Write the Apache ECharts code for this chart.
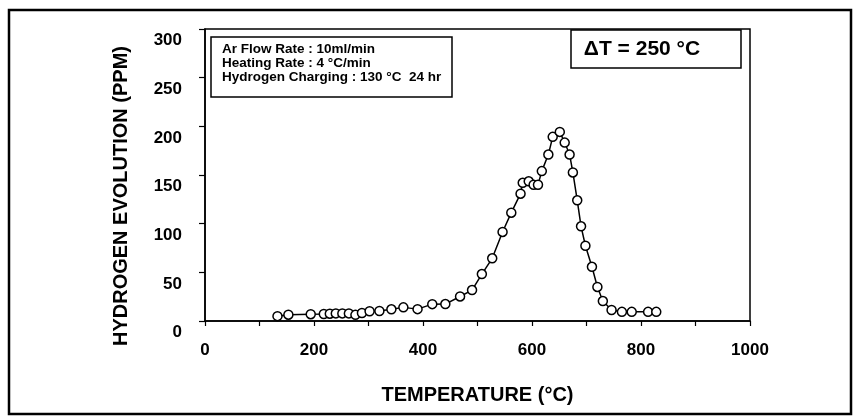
<!DOCTYPE html>
<html>
<head>
<meta charset="utf-8">
<script src="https://cdn.jsdelivr.net/npm/echarts@6/dist/echarts.min.js"></script>
<style>
html,body{margin:0;padding:0;background:#fff;}
#chart{width:860px;height:420px;}
</style>
</head>
<body>
<div id="chart"></div>
<script>
// Data
const temperatures = [133,153,194,218,229,240,252,264,276,288,302,320,342,364,390,417,441,468,490,508,527,546,562,579,583,594,603,611,618,630,638,651,660,669,675,683,690,698,710,720,730,746,765,783,813,828];
const hydrogenPpm  = [5,6.5,7,7.2,7.5,7.8,7.8,7.8,6.3,8.2,10,10.3,12,14,12.2,17.3,17.4,25.2,31.8,48.2,64.4,91.5,111.3,130.8,142,143.5,140,140,154,171,189.2,194.3,183.3,171,152.6,124,97.3,77.3,55.7,35,20.5,11.3,9.4,9.4,9.4,9.4];
const xRange = [0, 1000];
const yRange = [0, 300];
const infoLines = ['Ar Flow Rate : 10ml/min', 'Heating Rate : 4 °C/min', 'Hydrogen Charging : 130 °C  24 hr'];
const deltaText = 'ΔT = 250 °C';
const xTitle = 'TEMPERATURE (°C)';
const yTitle = 'HYDROGEN EVOLUTION (PPM)';

const FONT = '"Liberation Sans", Arial, sans-serif';
const seriesData = temperatures.map((t, i) => [t, hydrogenPpm[i]]);

const chart = echarts.init(document.getElementById('chart'), null, {renderer: 'canvas'});
chart.setOption({
  animation: false,
  backgroundColor: '#fff',
  grid: {left: 205, top: 29, right: 110, bottom: 99, show: true, borderColor: '#000', borderWidth: 1.5, containLabel: false},
  xAxis: {
    type: 'value', min: xRange[0], max: xRange[1], interval: 200,
    axisLine: {show: true, lineStyle: {color: '#000', width: 1.5}},
    axisTick: {show: true, inside: false, length: 5, lineStyle: {color: '#000', width: 1.2}},
    minorTick: {show: true, splitNumber: 2, length: 5, lineStyle: {color: '#000', width: 1.2}},
    splitLine: {show: false},
    axisLabel: {color: '#000', fontSize: 17, fontWeight: 'bold', fontFamily: FONT, margin: 21, formatter: v => String(v)},
    name: xTitle, nameLocation: 'middle', nameGap: 64,
    nameTextStyle: {color: '#000', fontSize: 20, fontWeight: 'bold', fontFamily: FONT}
  },
  yAxis: {
    type: 'value', min: yRange[0], max: yRange[1], interval: 50,
    axisLine: {show: true, lineStyle: {color: '#000', width: 1.5}},
    axisTick: {show: true, inside: false, length: 6, lineStyle: {color: '#000', width: 1.2}},
    splitLine: {show: false},
    axisLabel: {color: '#000', fontSize: 17, fontWeight: 'bold', fontFamily: FONT, margin: 23, verticalAlign: 'top', padding: [3, 0, 0, 0], formatter: v => String(v)},
    name: yTitle, nameLocation: 'middle', nameRotate: 90, nameGap: 74,
    nameTextStyle: {color: '#000', fontSize: 20, fontWeight: 'bold', fontFamily: FONT, padding: [0, 42, 0, 0]}
  },
  series: [{
    type: 'line',
    data: seriesData,
    symbol: 'circle',
    symbolSize: 9,
    itemStyle: {color: '#fff', borderColor: '#000', borderWidth: 1.5},
    lineStyle: {color: '#000', width: 1.5},
    z: 3
  }],
  graphic: [
    {type: 'rect', shape: {x: 9, y: 10, width: 842, height: 404}, style: {fill: 'none', stroke: '#000', lineWidth: 2.5}, silent: true},
    {type: 'rect', shape: {x: 211, y: 37, width: 241, height: 60}, style: {fill: '#fff', stroke: '#000', lineWidth: 1.5}, z: 10},
    {type: 'text', x: 222, y: 49, style: {text: infoLines[0], fill: '#000', fontSize: 13.5, fontWeight: 'bold', fontFamily: FONT, verticalAlign: 'middle'}, z: 11},
    {type: 'text', x: 222, y: 63, style: {text: infoLines[1], fill: '#000', fontSize: 13.5, fontWeight: 'bold', fontFamily: FONT, verticalAlign: 'middle'}, z: 11},
    {type: 'text', x: 222, y: 77, style: {text: infoLines[2], fill: '#000', fontSize: 13.5, fontWeight: 'bold', fontFamily: FONT, verticalAlign: 'middle'}, z: 11},
    {type: 'rect', shape: {x: 571, y: 30, width: 170, height: 38}, style: {fill: '#fff', stroke: '#000', lineWidth: 1.5}, z: 10},
    {type: 'text', x: 642, y: 49, style: {text: deltaText, fill: '#000', fontSize: 21, fontWeight: 'bold', fontFamily: FONT, align: 'center', verticalAlign: 'middle'}, z: 11}
  ]
});
</script>
</body>
</html>
